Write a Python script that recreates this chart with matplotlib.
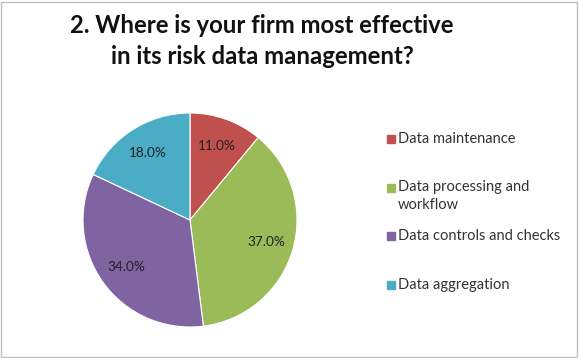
import matplotlib.pyplot as plt
from matplotlib.patches import Rectangle

categories = ['Data maintenance', 'Data processing and\nworkflow',
              'Data controls and checks', 'Data aggregation']
values = [11.0, 37.0, 34.0, 18.0]
colors = ['#C0504D', '#9BBB59', '#8064A2', '#4BACC6']
title = '2. Where is your firm most effective\nin its risk data management?'

W, H = 580, 358
fig = plt.figure(figsize=(W / 100, H / 100), dpi=100)
plt.rcParams['font.family'] = ['Lato', 'DejaVu Sans']

# light border round the chart area
fig.patches.append(Rectangle((1 / W, 1 / H), 576 / W, 355 / H, transform=fig.transFigure,
                             fill=False, edgecolor='#BFBFBF', linewidth=1))

fig.text(262 / W, 1 - 41 / H, title, ha='center', va='center', fontsize=17.2,
         fontweight='bold', linespacing=1.45, color='#111111')

# pie: centre (190, 220) px, radius 107 px
cx, cy, r = 190, 220, 107
ax = fig.add_axes([(cx - r) / W, (H - cy - r) / H, 2 * r / W, 2 * r / H])
wedges, texts, autotexts = ax.pie(values, colors=colors, startangle=90, counterclock=False,
                                  autopct='%.1f%%', pctdistance=0.74, radius=1,
                                  wedgeprops=dict(edgecolor='white', linewidth=0.8))
for t in autotexts:
    t.set_fontsize(9.8)
    t.set_color('#222222')
ax.set_xlim(-1, 1)
ax.set_ylim(-1, 1)
ax.set_aspect('equal')
ax.axis('off')

# legend drawn by hand to keep Excel-like spacing
for i, (lab, col) in enumerate(zip(categories, colors)):
    y = 139 + 48.5 * i
    fig.patches.append(Rectangle((387 / W, 1 - (y + 4) / H), 8 / W, 8 / H,
                                 transform=fig.transFigure, color=col))
    fig.text(398 / W, 1 - (y - 7) / H, lab, ha='left', va='top', fontsize=10.5,
             color='#333333', linespacing=1.3)

fig.savefig('out.png', dpi=100)
